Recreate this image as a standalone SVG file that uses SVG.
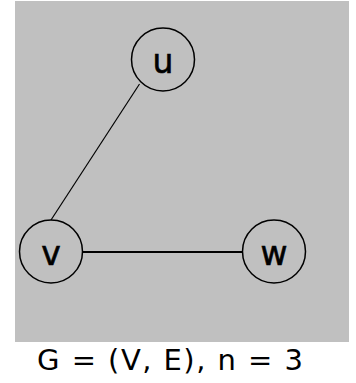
<svg xmlns="http://www.w3.org/2000/svg" width="356" height="383" viewBox="0 0 356 383">
<style>
.node circle{fill:none;stroke:#000;stroke-width:1.5}
.node text{font-family:"DejaVu Sans",sans-serif;font-size:33px;fill:#000;stroke:#000;stroke-width:0.6;text-anchor:middle}
.edge{stroke:#000;fill:none}
.title{font-family:"DejaVu Sans",sans-serif;font-size:29px;fill:#000;text-anchor:middle}
</style>
<rect x="15" y="1" width="334" height="341" fill="#c0c0c0"/>
<g id="edges">
<line class="edge" x1="139.5" y1="84" x2="51" y2="220" stroke-width="1.2"/>
<line class="edge" x1="83" y1="252" x2="242.5" y2="252" stroke-width="2"/>
</g>
<g id="node-u" class="node"><circle cx="163" cy="59.5" r="31.5"/><text x="163" y="73">u</text></g>
<g id="node-v" class="node"><circle cx="51" cy="251.5" r="31.5"/><text x="51" y="265">v</text></g>
<g id="node-w" class="node"><circle cx="274" cy="251.5" r="31.5"/><text x="274" y="265">w</text></g>
<text class="title" x="170" y="370" textLength="266" lengthAdjust="spacing">G = (V, E), n = 3</text>
</svg>
